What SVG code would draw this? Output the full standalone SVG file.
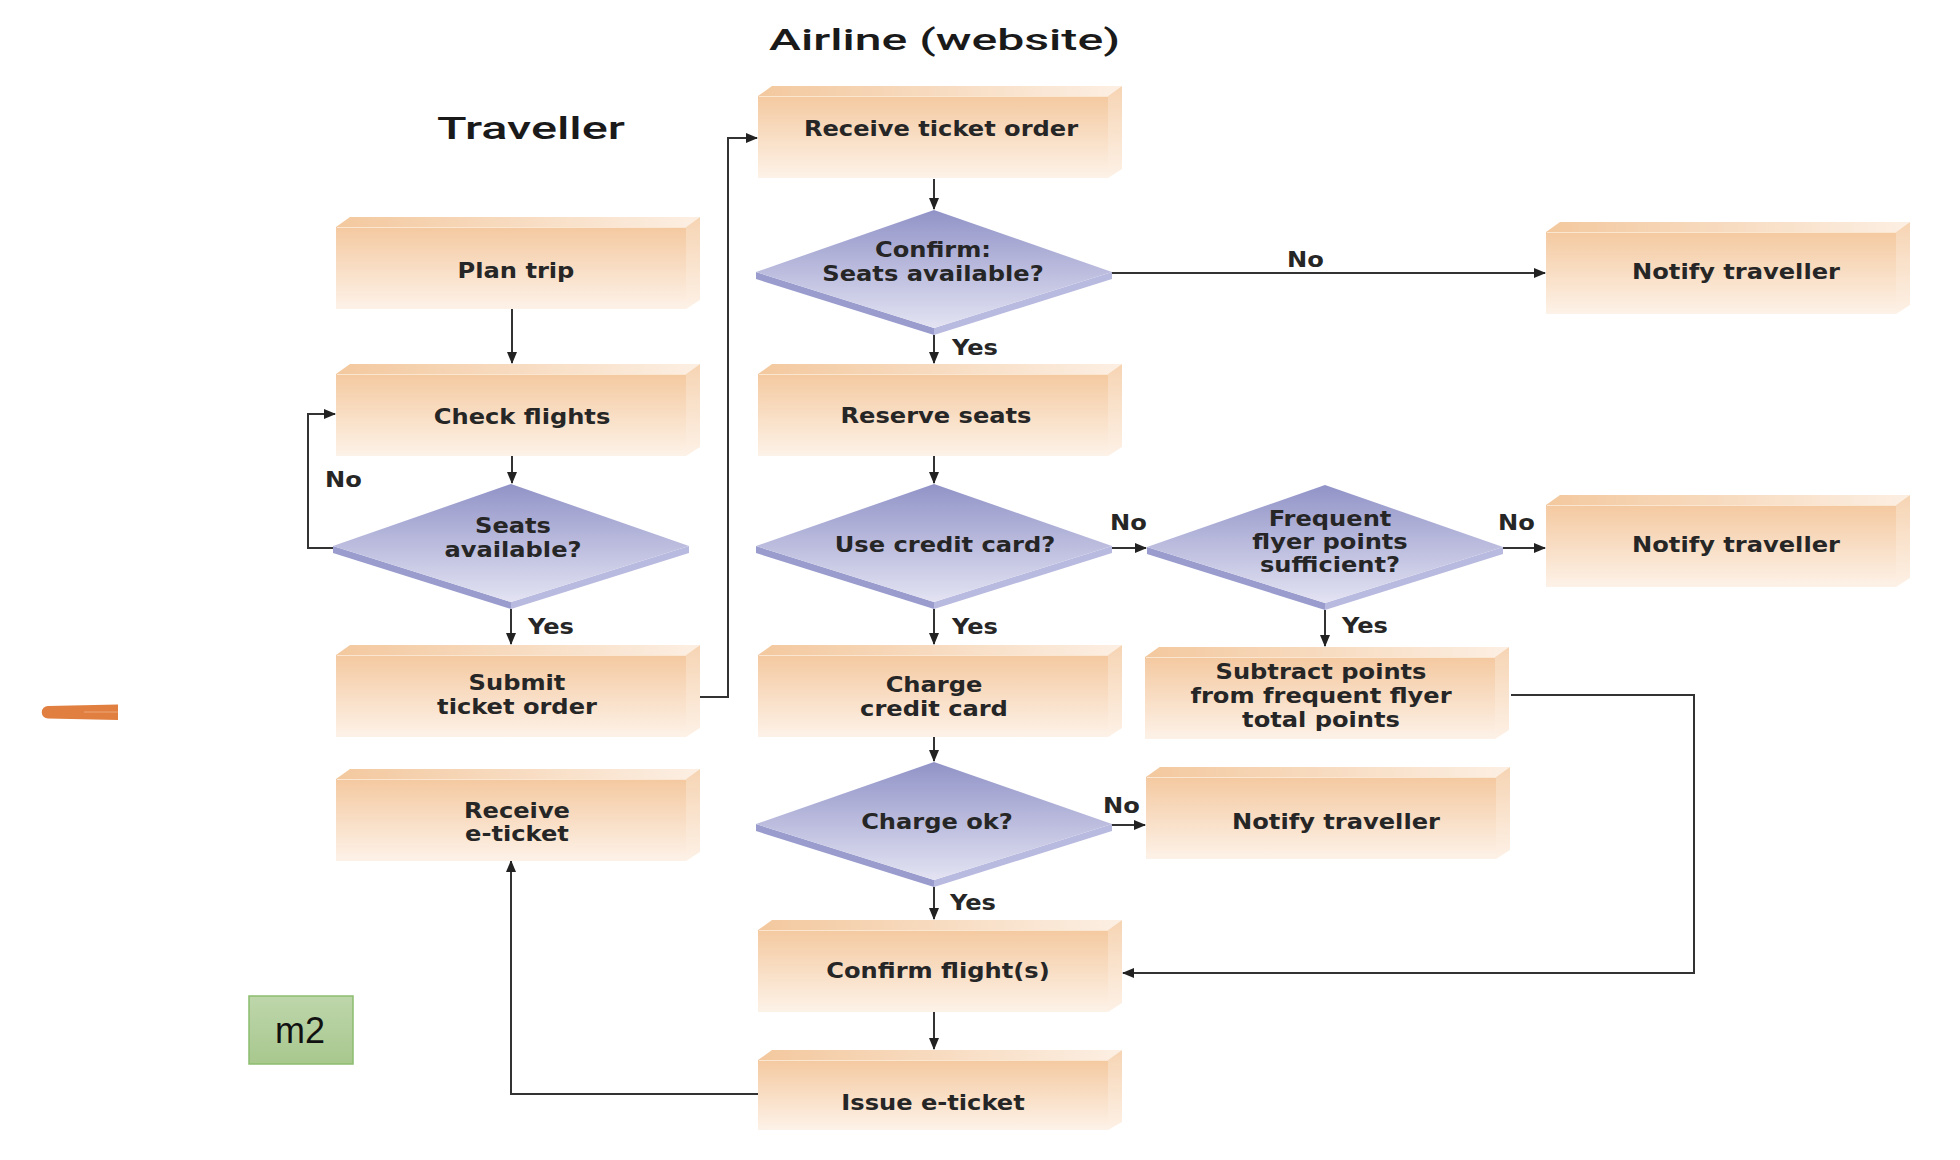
<svg xmlns="http://www.w3.org/2000/svg" width="1960" height="1160" viewBox="0 0 1960 1160">
<defs>
<linearGradient id="gFront" x1="0" y1="0" x2="0" y2="1">
<stop offset="0" stop-color="#f4c9a0"/><stop offset="1" stop-color="#fdf2e8"/>
</linearGradient>
<linearGradient id="gTop" x1="0" y1="0" x2="1" y2="0">
<stop offset="0" stop-color="#f3c89e"/><stop offset="1" stop-color="#fcefe3"/>
</linearGradient>
<linearGradient id="gSide" x1="0" y1="0" x2="0" y2="1">
<stop offset="0" stop-color="#f6d4b3"/><stop offset="1" stop-color="#fdf1e6"/>
</linearGradient>
<linearGradient id="gDia" x1="0" y1="0" x2="0" y2="1">
<stop offset="0" stop-color="#9193c7"/><stop offset="1" stop-color="#e3e3f3"/>
</linearGradient>
<linearGradient id="gM2" x1="0" y1="0" x2="0" y2="1">
<stop offset="0" stop-color="#bed6ab"/><stop offset="1" stop-color="#a8c88e"/>
</linearGradient>
<symbol id="box" overflow="visible">
<path d="M0,10 L14,0 L364,0 L350,10 Z" fill="url(#gTop)"/>
<path d="M350,10 L364,0 L364,83 L350,92 Z" fill="url(#gSide)"/>
<rect x="0" y="10" width="350" height="82" fill="url(#gFront)"/>
<line x1="1" y1="10.5" x2="350" y2="10.5" stroke="#fbe6d2" stroke-width="1"/>
</symbol>
<symbol id="boxShort" overflow="visible">
<path d="M0,10 L14,0 L364,0 L350,10 Z" fill="url(#gTop)"/>
<path d="M350,10 L364,0 L364,72 L350,80 Z" fill="url(#gSide)"/>
<rect x="0" y="10" width="350" height="70" fill="url(#gFront)"/>
<line x1="1" y1="10.5" x2="350" y2="10.5" stroke="#fbe6d2" stroke-width="1"/>
</symbol>
<symbol id="dia" overflow="visible">
<path d="M0,62 L178,118 L178,125 L0,69 Z" fill="#9a9ccd"/>
<path d="M178,118 L356,62 L356,69 L178,125 Z" fill="#b9badf"/>
<path d="M178,0 L356,62 L178,118 L0,62 Z" fill="url(#gDia)"/>
</symbol>
<marker id="arr" markerUnits="userSpaceOnUse" markerWidth="12" markerHeight="10" refX="11" refY="5" orient="auto">
<path d="M0,0 L12,5 L0,10 Z" fill="#222"/>
</marker>
</defs>
<style>
.t{font-family:"DejaVu Sans",Verdana,sans-serif;font-weight:bold;font-size:21px;fill:#262626;text-anchor:middle}
.l{font-family:"DejaVu Sans",Verdana,sans-serif;font-weight:bold;font-size:21px;fill:#262626}
.h{font-family:Roboto,"Liberation Sans",Arial,sans-serif;font-weight:500;fill:#1a1a1a}
.c{fill:none;stroke:#333;stroke-width:2}
</style>
<rect width="1960" height="1160" fill="#fff"/>

<text class="h" x="769" y="50" font-size="30" textLength="351" lengthAdjust="spacingAndGlyphs">Airline (website)</text>
<text class="h" x="437" y="139" font-size="32" textLength="188" lengthAdjust="spacingAndGlyphs">Traveller</text>

<g id="connectors">
<path class="c" d="M512,309 V363" marker-end="url(#arr)"/>
<path class="c" d="M512,454 V483" marker-end="url(#arr)"/>
<path class="c" d="M333,548 H308 V414 H335" marker-end="url(#arr)"/>
<path class="c" d="M511,609 V644" marker-end="url(#arr)"/>
<path class="c" d="M699,697 H728 V138 H757" marker-end="url(#arr)"/>
<path class="c" d="M934,179 V209" marker-end="url(#arr)"/>
<path class="c" d="M1111,273 H1545" marker-end="url(#arr)"/>
<path class="c" d="M934,335 V363" marker-end="url(#arr)"/>
<path class="c" d="M934,456 V483" marker-end="url(#arr)"/>
<path class="c" d="M1111,548 H1146" marker-end="url(#arr)"/>
<path class="c" d="M1503,548 H1545" marker-end="url(#arr)"/>
<path class="c" d="M1325,610 V646" marker-end="url(#arr)"/>
<path class="c" d="M934,609 V644" marker-end="url(#arr)"/>
<path class="c" d="M934,735 V761" marker-end="url(#arr)"/>
<path class="c" d="M1111,825 H1145" marker-end="url(#arr)"/>
<path class="c" d="M934,887 V919" marker-end="url(#arr)"/>
<path class="c" d="M1511,695 H1694 V973 H1123" marker-end="url(#arr)"/>
<path class="c" d="M934,1012 V1049" marker-end="url(#arr)"/>
<path class="c" d="M758,1094 H511 V861" marker-end="url(#arr)"/>
<text class="l" transform="translate(325,487) scale(1.15,1)">No</text>
<text class="l" transform="translate(528,634) scale(1.15,1)">Yes</text>
<text class="l" transform="translate(1287,267) scale(1.15,1)">No</text>
<text class="l" transform="translate(952,355) scale(1.15,1)">Yes</text>
<text class="l" transform="translate(1110,530) scale(1.15,1)">No</text>
<text class="l" transform="translate(1498,530) scale(1.15,1)">No</text>
<text class="l" transform="translate(1342,633) scale(1.15,1)">Yes</text>
<text class="l" transform="translate(952,634) scale(1.15,1)">Yes</text>
<text class="l" transform="translate(1103,813) scale(1.15,1)">No</text>
<text class="l" transform="translate(950,910) scale(1.15,1)">Yes</text>
</g>

<g id="plan-trip"><use href="#box" x="336" y="217"/><text class="t" transform="translate(516,278) scale(1.15,1)">Plan trip</text></g>
<g id="check-flights"><use href="#box" x="336" y="364"/><text class="t" transform="translate(522,424) scale(1.15,1)">Check flights</text></g>
<g id="seats-available"><use href="#dia" x="333" y="484"/><text class="t" transform="translate(513,533) scale(1.15,1)">Seats</text><text class="t" transform="translate(513,557) scale(1.15,1)">available?</text></g>
<g id="submit-ticket-order"><use href="#box" x="336" y="645"/><text class="t" transform="translate(517,690) scale(1.15,1)">Submit</text><text class="t" transform="translate(517,714) scale(1.15,1)">ticket order</text></g>
<g id="receive-e-ticket"><use href="#box" x="336" y="769"/><text class="t" transform="translate(517,818) scale(1.15,1)">Receive</text><text class="t" transform="translate(517,841) scale(1.15,1)">e-ticket</text></g>

<g id="receive-ticket-order"><use href="#box" x="758" y="86"/><text class="t" transform="translate(941,136) scale(1.15,1)">Receive ticket order</text></g>
<g id="confirm-seats"><use href="#dia" x="756" y="210"/><text class="t" transform="translate(933,257) scale(1.15,1)">Confirm:</text><text class="t" transform="translate(933,281) scale(1.15,1)">Seats available?</text></g>
<g id="notify-traveller-1"><use href="#box" x="1546" y="222"/><text class="t" transform="translate(1736,279) scale(1.15,1)">Notify traveller</text></g>
<g id="reserve-seats"><use href="#box" x="758" y="364"/><text class="t" transform="translate(936,423) scale(1.15,1)">Reserve seats</text></g>
<g id="use-credit-card"><use href="#dia" x="756" y="484"/><text class="t" transform="translate(945,552) scale(1.15,1)">Use credit card?</text></g>
<g id="frequent-flyer"><use href="#dia" x="1147" y="485"/><text class="t" transform="translate(1330,526) scale(1.15,1)">Frequent</text><text class="t" transform="translate(1330,549) scale(1.15,1)">flyer points</text><text class="t" transform="translate(1330,572) scale(1.15,1)">sufficient?</text></g>
<g id="notify-traveller-2"><use href="#box" x="1546" y="495"/><text class="t" transform="translate(1736,552) scale(1.15,1)">Notify traveller</text></g>
<g id="charge-credit-card"><use href="#box" x="758" y="645"/><text class="t" transform="translate(934,692) scale(1.15,1)">Charge</text><text class="t" transform="translate(934,716) scale(1.15,1)">credit card</text></g>
<g id="subtract-points"><use href="#box" x="1145" y="647"/><text class="t" transform="translate(1321,679) scale(1.15,1)">Subtract points</text><text class="t" transform="translate(1321,703) scale(1.15,1)">from frequent flyer</text><text class="t" transform="translate(1321,727) scale(1.15,1)">total points</text></g>
<g id="charge-ok"><use href="#dia" x="756" y="762"/><text class="t" transform="translate(937,829) scale(1.15,1)">Charge ok?</text></g>
<g id="notify-traveller-3"><use href="#box" x="1146" y="767"/><text class="t" transform="translate(1336,829) scale(1.15,1)">Notify traveller</text></g>
<g id="confirm-flights"><use href="#box" x="758" y="920"/><text class="t" transform="translate(938,978) scale(1.15,1)">Confirm flight(s)</text></g>
<g id="issue-e-ticket"><use href="#boxShort" x="758" y="1050"/><text class="t" transform="translate(933,1110) scale(1.15,1)">Issue e-ticket</text></g>

<g id="orange-mark"><path d="M48,706 L118,704.5 L118,720 L48,718.5 A6,6 0 0 1 48,706 Z" fill="#e07f3f"/><path d="M84,712 L118,712" stroke="#eea778" stroke-width="1"/></g>
<g id="m2"><rect x="249" y="996" width="104" height="68" fill="url(#gM2)" stroke="#8cbd6f" stroke-width="1.5"/><text x="300" y="1043" font-family="Liberation Sans, Arial, sans-serif" font-size="36" fill="#111" text-anchor="middle">m2</text></g>
</svg>
